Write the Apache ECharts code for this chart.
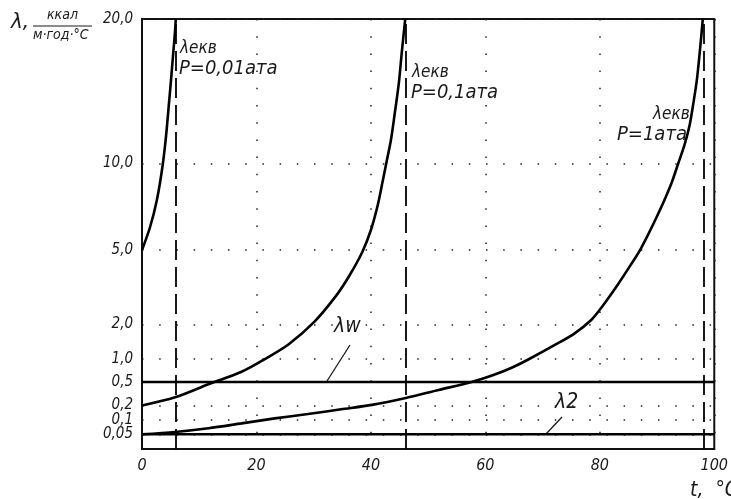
<!DOCTYPE html>
<html>
<head>
<meta charset="utf-8">
<script src="https://cdn.jsdelivr.net/npm/echarts@6/dist/echarts.min.js"></script>
<style>
  html, body { margin: 0; padding: 0; background: #fff; }
  #chart { width: 731px; height: 499px; }
</style>
</head>
<body>
<div id="chart"></div>
<script>
// λ axis of the nomogram: tick values and their labels
const yTicks = [0.05, 0.1, 0.2, 0.5, 1, 2, 5, 10, 20];
const yLabels = ['0,05', '0,1', '0,2', '0,5', '1,0', '2,0', '5,0', '10,0', '20,0'];
// t axis
const xTicks = [0, 20, 40, 60, 80, 100];

// λекв curves (t in °C, λ in ккал/м·год·°C)
const p001T = [0, 1.4, 2.6, 3.65, 4.35, 5.75, 5.9];
const p001L = [5.0, 6.0, 7.46, 10.0, 11.9, 18.7, 20.0];

const p01T = [0, 5.8, 11.6, 17.4, 21.4, 25.7, 30.1, 33.9, 36.2, 38.5, 40.0, 41.2, 42.1, 42.8, 43.5, 44.2, 44.9, 45.4, 46.0];
const p01L = [0.2, 0.275, 0.457, 0.68, 0.99, 1.35, 2.06, 2.84, 3.63, 4.88, 5.87, 7.17, 8.76, 10.17, 11.19, 12.8, 14.78, 17.07, 20.0];

const p1T = [0, 5.8, 11.6, 17.4, 23.2, 29.0, 34.8, 40.2, 46.1, 51.8, 57.6, 61.4, 64.5, 67.5, 72.7, 75.6, 78.5, 80.2, 83.1, 85.4, 87.2, 90.1, 92.4, 93.7, 94.8, 95.7, 96.3, 96.96, 97.5, 98.0];
const p1L = [0.05, 0.056, 0.067, 0.085, 0.108, 0.133, 0.167, 0.205, 0.268, 0.366, 0.5, 0.617, 0.763, 0.985, 1.37, 1.67, 2.11, 2.44, 3.25, 4.16, 5.07, 6.62, 8.42, 10.0, 10.93, 12.03, 13.24, 14.93, 17.23, 20.0];

// constant levels λw and λ2
const lambdaW = 0.5;
const lambda2 = 0.05;
// boiling temperatures (dashed verticals) for P = 0,01 / 0,1 / 1 ата
const boilT = [5.9, 46.1, 98.1];

// the printed scale is non-uniform: place of each tick along the axis (0..430)
const tickPlace = [14.7, 29, 43.5, 67, 90, 124.7, 199, 285.5, 430];
function toAxis(v) {
  for (let i = 0; i < yTicks.length - 1; i++) {
    if (v <= yTicks[i + 1] || i === yTicks.length - 2) {
      const f = Math.log(v / yTicks[i]) / Math.log(yTicks[i + 1] / yTicks[i]);
      return tickPlace[i] + f * (tickPlace[i + 1] - tickPlace[i]);
    }
  }
}
function pairs(ts, ls) {
  return ts.map((t, i) => [t, toAxis(ls[i])]);
}
function labelAt(v) {
  let best = 0;
  tickPlace.forEach((p, i) => { if (Math.abs(p - v) < Math.abs(tickPlace[best] - v)) best = i; });
  return yLabels[best];
}
// labels sit very close together, so they are split over two copies of the axis
const evenPlaces = tickPlace.filter((p, i) => i % 2 === 0);
const oddPlaces = tickPlace.filter((p, i) => i % 2 === 1);

const font = "'Liberation Sans Narrow', 'DejaVu Sans Condensed', sans-serif";
const ink = '#1a1a1a';
const dotted = { color: '#222', width: 1.5, type: [1.5, 15.7] };
const yLabelStyle = {
  hideOverlap: false, showMinLabel: true, showMaxLabel: true,
  color: ink, fontFamily: font, fontStyle: 'italic', fontSize: 15, margin: 9,
  formatter: labelAt
};

const chart = echarts.init(document.getElementById('chart'));

const curve = (name, data) => ({
  name: name,
  type: 'line',
  data: data,
  smooth: 0.3,
  showSymbol: false,
  silent: true,
  lineStyle: { color: '#000', width: 2.6 },
  z: 3
});

const option = {
  animation: false,
  grid: {
    left: 142, right: 14, top: 19, bottom: 50,
    show: true, borderColor: '#111', borderWidth: 2, backgroundColor: 'transparent'
  },
  xAxis: {
    type: 'value', min: 0, max: 100, interval: 20,
    axisLine: { lineStyle: { color: '#111', width: 2 } },
    axisTick: { show: false },
    axisLabel: {
      color: ink, fontFamily: font, fontStyle: 'italic', fontSize: 16, margin: 9,
      showMinLabel: true, showMaxLabel: true,
      formatter: v => xTicks.includes(v) ? String(v) : ''
    },
    splitLine: { show: true, lineStyle: dotted }
  },
  yAxis: [
    {
      type: 'value', min: 0, max: 430,
      axisLine: { lineStyle: { color: '#111', width: 2 } },
      axisTick: { show: false, customValues: evenPlaces },
      axisLabel: Object.assign({ customValues: evenPlaces }, yLabelStyle),
      splitLine: { show: true, lineStyle: dotted }
    },
    {
      type: 'value', min: 0, max: 430, position: 'left',
      axisLine: { show: false },
      axisTick: { show: false, customValues: oddPlaces },
      axisLabel: Object.assign({ customValues: oddPlaces }, yLabelStyle),
      splitLine: { show: true, lineStyle: dotted }
    }
  ],
  series: [
    curve('P=0,01ата', pairs(p001T, p001L)),
    curve('P=0,1ата', pairs(p01T, p01L)),
    curve('P=1ата', pairs(p1T, p1L)),
    {
      name: 'λw', type: 'line', silent: true, showSymbol: false,
      data: [[0, toAxis(lambdaW)], [100, toAxis(lambdaW)]],
      lineStyle: { color: '#000', width: 2.4 }, z: 2
    },
    {
      name: 'λ2', type: 'line', silent: true, showSymbol: false,
      data: [[0, toAxis(lambda2)], [100, toAxis(lambda2)]],
      lineStyle: { color: '#000', width: 2.4 }, z: 2,
      markLine: {
        silent: true, symbol: 'none', label: { show: false },
        lineStyle: { color: '#000', width: 1.8, type: [20, 7] },
        data: boilT.map(t => ({ xAxis: t }))
      }
    }
  ],
  graphic: [
    // axis title
    { type: 'text', left: 11, top: 11, style: { text: 'λ,', font: 'italic 22px ' + font, fill: ink } },
    { type: 'text', left: 47, top: 8, style: { text: 'ккал', font: 'italic 14px ' + font, fill: ink } },
    { type: 'line', shape: { x1: 33, y1: 26, x2: 92, y2: 26 }, style: { stroke: ink, lineWidth: 1.2 } },
    { type: 'text', left: 33, top: 28, style: { text: 'м·год·°С', font: 'italic 14px ' + font, fill: ink } },
    { type: 'text', left: 690, top: 480, style: { text: 't,  °C', font: 'italic 21px ' + font, fill: ink } },
    // curve labels
    { type: 'text', left: 180, top: 40, style: { text: 'λекв', font: 'italic 17px ' + font, fill: ink } },
    { type: 'text', left: 179, top: 59, style: { text: 'P=0,01ата', font: 'italic 20px ' + font, fill: ink } },
    { type: 'text', left: 412, top: 64, style: { text: 'λекв', font: 'italic 17px ' + font, fill: ink } },
    { type: 'text', left: 411, top: 83, style: { text: 'P=0,1ата', font: 'italic 20px ' + font, fill: ink } },
    { type: 'text', left: 653, top: 106, style: { text: 'λекв', font: 'italic 17px ' + font, fill: ink } },
    { type: 'text', left: 617, top: 125, style: { text: 'P=1ата', font: 'italic 20px ' + font, fill: ink } },
    // λw and λ2 callouts
    { type: 'text', left: 334, top: 316, style: { text: 'λw', font: 'italic 21px ' + font, fill: ink } },
    { type: 'line', shape: { x1: 327, y1: 381, x2: 350, y2: 345 }, style: { stroke: ink, lineWidth: 1.3 } },
    { type: 'text', left: 555, top: 392, style: { text: 'λ2', font: 'italic 21px ' + font, fill: ink } },
    { type: 'line', shape: { x1: 546, y1: 434, x2: 562, y2: 417 }, style: { stroke: ink, lineWidth: 1.3 } }
  ]
};
chart.setOption(option);
</script>
</body>
</html>
